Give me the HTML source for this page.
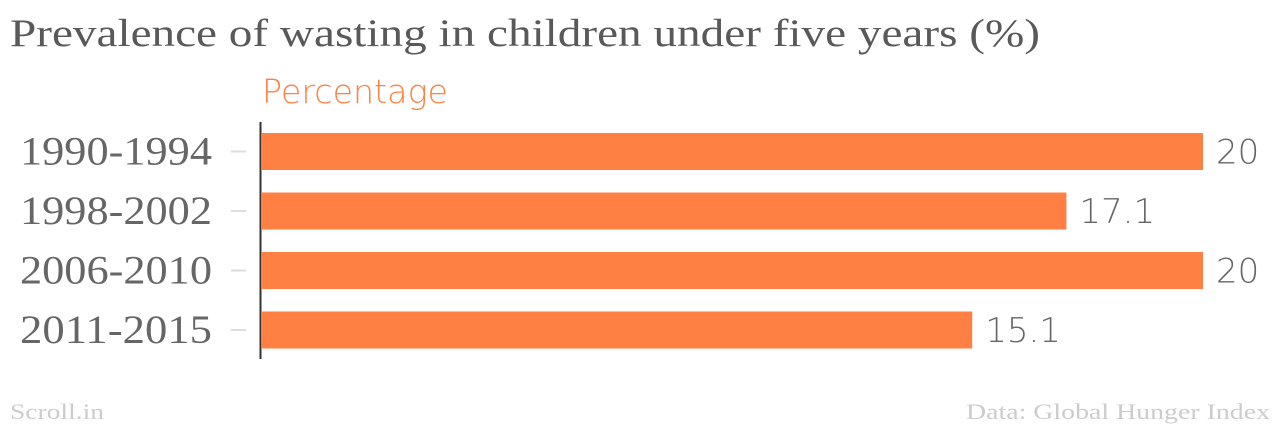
<!DOCTYPE html>
<html><head><meta charset="utf-8">
<style>
body{margin:0;background:#fff;width:1280px;height:426px;overflow:hidden}
svg{display:block}
</style></head>
<body>
<svg id="chart" width="1280" height="426" xmlns="http://www.w3.org/2000/svg">
<text x="10" y="46" font-family="Liberation Serif, serif" font-size="39" fill="#595959" textLength="1030" lengthAdjust="spacingAndGlyphs">Prevalence of wasting in children under five years (%)</text>
<text x="262" y="103" font-family="DejaVu Sans, sans-serif" font-weight="200" font-size="33" fill="#ff8042" textLength="186" lengthAdjust="spacingAndGlyphs">Percentage</text>
<line x1="260.5" y1="122" x2="260.5" y2="359" stroke="#333" stroke-width="2"/>
<g id="bars"></g>
<text x="10" y="419" font-family="Liberation Serif, serif" font-size="22" fill="#ccc" textLength="94" lengthAdjust="spacingAndGlyphs">Scroll.in</text>
<text x="966" y="419" font-family="Liberation Serif, serif" font-size="22" fill="#ccc" textLength="304" lengthAdjust="spacingAndGlyphs">Data: Global Hunger Index</text>
</svg>
<script>
const categories = ["1990-1994","1998-2002","2006-2010","2011-2015"];
const values = [20, 17.1, 20, 15.1];
const valueLabels = ["20","17.1","20","15.1"];

const x0 = 261, pxPerUnit = 47.1;
const xScale = v => x0 + v * pxPerUnit;
const bandTop = 133, bandStep = 59.5, barH = 37;
const yScale = i => bandTop + i * bandStep;
const NS = "http://www.w3.org/2000/svg";
const g = document.getElementById("bars");
categories.forEach((c, i) => {
  const y = yScale(i), cy = y + barH / 2;
  const r = document.createElementNS(NS, "rect");
  r.setAttribute("x", x0 + 1);
  r.setAttribute("y", y);
  r.setAttribute("width", xScale(values[i]) - x0 - 1);
  r.setAttribute("height", barH);
  r.setAttribute("fill", "#ff8042");
  
  
  g.appendChild(r);

  const t = document.createElementNS(NS, "text");
  t.setAttribute("x", 20);
  t.setAttribute("y", cy + 13);
  t.setAttribute("font-family", "Liberation Serif, serif");
  t.setAttribute("font-size", "40");
  t.setAttribute("fill", "#666");
  t.setAttribute("textLength", "192");
  t.setAttribute("lengthAdjust", "spacingAndGlyphs");
  t.textContent = c;
  
  
  g.appendChild(t);

  const tk = document.createElementNS(NS, "line");
  tk.setAttribute("x1", 231); tk.setAttribute("x2", 246);
  tk.setAttribute("y1", cy); tk.setAttribute("y2", cy);
  tk.setAttribute("stroke", "#ddd"); tk.setAttribute("stroke-width", "2");
  
  
  g.appendChild(tk);

  const v = document.createElementNS(NS, "text");
  v.setAttribute("x", xScale(values[i]) + 13);
  v.setAttribute("y", cy + 12);
  v.setAttribute("font-family", "DejaVu Sans, sans-serif");
  v.setAttribute("font-weight", "200");
  v.setAttribute("font-size", "34");
  v.setAttribute("fill", "#666");
  v.textContent = valueLabels[i];
  
  
  g.appendChild(v);
});
</script>
</body></html>
